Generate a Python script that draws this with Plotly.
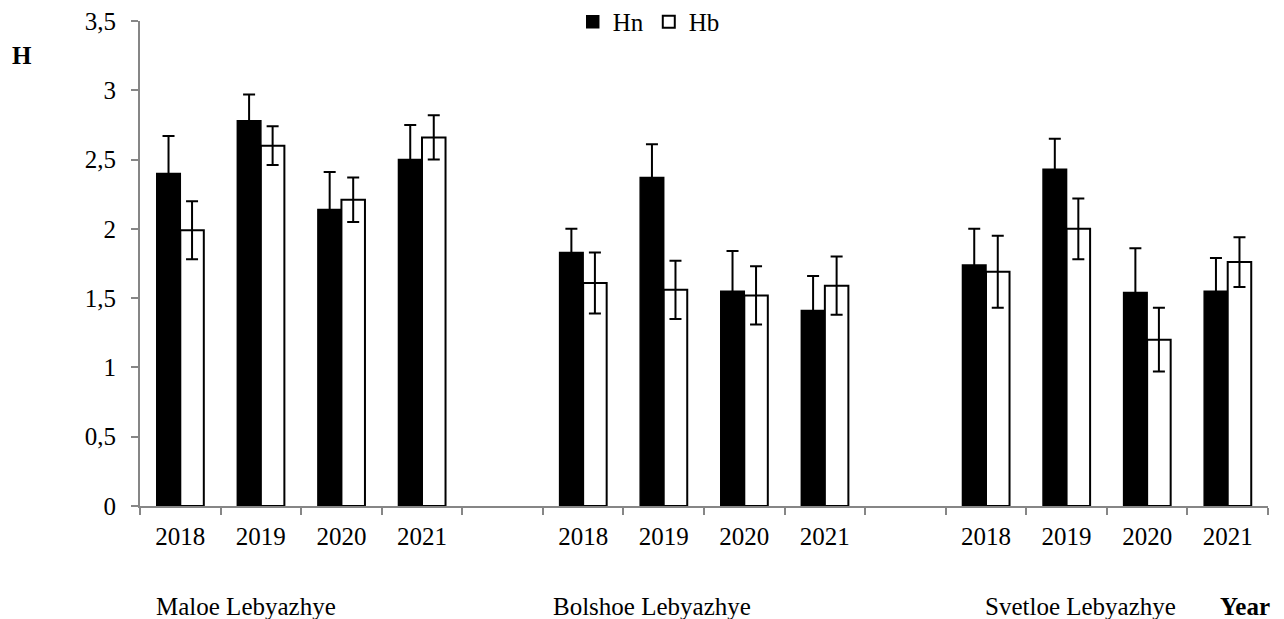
import plotly.graph_objects as go

lakes = ["Maloe Lebyazhye", "Bolshoe Lebyazhye", "Svetloe Lebyazhye"]
years = ["2018", "2019", "2020", "2021"]

hn = [2.40, 2.78, 2.14, 2.50,
      1.83, 2.37, 1.55, 1.41,
      1.74, 2.43, 1.54, 1.55]
hn_err = [0.27, 0.19, 0.27, 0.25,
          0.17, 0.24, 0.29, 0.25,
          0.26, 0.22, 0.32, 0.24]
hb = [1.99, 2.60, 2.21, 2.66,
      1.61, 1.56, 1.52, 1.59,
      1.69, 2.00, 1.20, 1.76]
hb_err = [0.21, 0.14, 0.16, 0.16,
          0.22, 0.21, 0.21, 0.21,
          0.26, 0.22, 0.23, 0.18]
y_ticks = [0, 0.5, 1, 1.5, 2, 2.5, 3, 3.5]
y_ticktext = ["0", "0,5", "1", "1,5", "2", "2,5", "3", "3,5"]

# slot positions: 4 years, blank slot, 4 years, blank slot, 4 years
pos = []
labels = []
for g in range(3):
    for k, y in enumerate(years):
        pos.append(g * 5 + k)
        labels.append(y)

FONT = "Liberation Serif"
FS = 25

fig = go.Figure()
fig.add_trace(go.Bar(
    x=pos, y=hn, name="Hn",
    marker=dict(color="black", line=dict(color="black", width=1.5)),
    error_y=dict(type="data", array=hn_err, color="black", thickness=2, width=6),
))
fig.add_trace(go.Bar(
    x=pos, y=hb, name="Hb",
    marker=dict(color="white", line=dict(color="black", width=2)),
    error_y=dict(type="data", array=hb_err, color="black", thickness=2, width=6),
))

nslots = 14
fig.update_layout(
    width=1276, height=611,
    margin=dict(l=132, r=16, t=13, b=113, autoexpand=False),
    paper_bgcolor="white", plot_bgcolor="white",
    font=dict(family=FONT, size=FS, color="black"),
    separators=", ",
    barmode="group", bargap=0.416, bargroupgap=0,
    showlegend=True,
    legend=dict(orientation="h", x=0.451, xanchor="center", y=0.998, yanchor="middle",
                font=dict(family=FONT, size=FS), bgcolor="rgba(0,0,0,0)",
                itemwidth=30, tracegroupgap=0),
)
fig.update_xaxes(
    range=[-0.5, nslots - 0.5],
    tickmode="array", tickvals=pos, ticktext=labels,
    ticks="", showgrid=False, zeroline=False,
    showline=True, linecolor="#868686", linewidth=2,
    ticklabelstandoff=7,
    tickfont=dict(family=FONT, size=FS),
    minor=dict(tickmode="array", tickvals=[i - 0.5 for i in range(nslots + 1)],
               ticks="outside", ticklen=7, tickcolor="#868686", tickwidth=2, showgrid=False),
)
fig.update_yaxes(
    range=[0, 3.5001],
    tickmode="array", tickvals=y_ticks, ticktext=y_ticktext,
    ticks="outside", ticklen=7, tickcolor="#868686", tickwidth=2,
    showgrid=False, zeroline=False,
    showline=True, linecolor="#868686", linewidth=2,
    ticklabelstandoff=10, ticklabeloverflow="allow",
    tickfont=dict(family=FONT, size=FS),
)

# group labels
group_x = [-0.33, 4.6, 9.96]
for name, gx in zip(lakes, group_x):
    fig.add_annotation(x=gx, xref="x", y=0, yref="paper", yshift=-100,
                       text=name, showarrow=False, xanchor="left", yanchor="middle",
                       font=dict(family=FONT, size=FS))
fig.add_annotation(x=12.88, xref="x", y=0, yref="paper", yshift=-100,
                   text="<b>Year</b>", showarrow=False, xanchor="left", yanchor="middle",
                   font=dict(family=FONT, size=FS))
fig.add_annotation(x=-130 / 1128, xref="paper", y=1, yref="paper", yshift=-34,
                   text="<b>H</b>", showarrow=False, xanchor="left", yanchor="middle",
                   font=dict(family=FONT, size=FS))

fig.write_html("out.html")
